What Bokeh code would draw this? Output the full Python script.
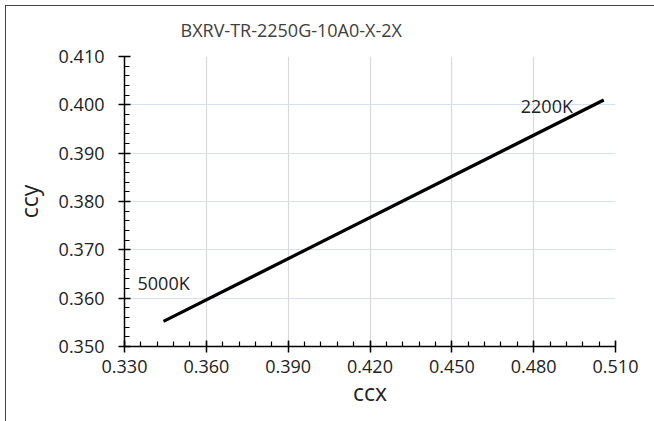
import numpy as np
from bokeh.plotting import figure
from bokeh.models import Range1d, FixedTicker, PrintfTickFormatter, ColumnDataSource
from bokeh.core.properties import value
from bokeh.embed import file_html
from bokeh.resources import INLINE

# ---- data ----
title_text = "BXRV-TR-2250G-10A0-X-2X"
ccx = [0.3443, 0.5057]
ccy = [0.3552, 0.4010]
cct_labels = ["5000K", "2200K"]
x_ticks = [0.330, 0.360, 0.390, 0.420, 0.450, 0.480, 0.510]
y_ticks = [0.350, 0.360, 0.370, 0.380, 0.390, 0.400, 0.410]

FONT = "Open Sans"

p = figure(width=654, height=421, output_backend="svg", toolbar_location=None,
           x_range=Range1d(x_ticks[0], x_ticks[-1]), y_range=Range1d(y_ticks[0], y_ticks[-1]),
           min_border_left=124, min_border_right=39, min_border_top=56, min_border_bottom=75,
           title=title_text)
p.styles = {
    "background-color": "#ffffff",
    "background-image": "linear-gradient(#444444, #444444), linear-gradient(#444444, #444444)",
    "background-size": "1px 100%, 100% 1px",
    "background-position": "5px 5px, 5px 5px",
    "background-repeat": "no-repeat",
}
p.outline_line_color = None
p.background_fill_color = "white"
p.border_fill_color = None

p.title.text_font = FONT
p.title.text_font_size = "18px"
p.title.text_font_style = "normal"
p.title.text_color = "#404040"
p.title.align = "left"
p.title.offset = 56
p.title.standoff = 30

# ticks
x_minor = list(np.round(np.arange(x_ticks[0], x_ticks[-1] + 1e-9, 0.006), 4))
y_minor = list(np.round(np.arange(y_ticks[0], y_ticks[-1] + 1e-9, 0.002), 4))
p.xaxis.ticker = FixedTicker(ticks=x_ticks, minor_ticks=x_minor)
p.yaxis.ticker = FixedTicker(ticks=y_ticks, minor_ticks=y_minor)
p.xaxis.formatter = PrintfTickFormatter(format="%.3f")
p.yaxis.formatter = PrintfTickFormatter(format="%.3f")

for ax in (p.xaxis[0], p.yaxis[0]):
    ax.axis_line_color = "black"
    ax.axis_line_width = 1.5
    ax.major_tick_line_color = "black"
    ax.major_tick_line_width = 1.5
    ax.major_tick_in = 6
    ax.major_tick_out = 6
    ax.minor_tick_line_color = "black"
    ax.minor_tick_line_width = 1.2
    ax.minor_tick_in = 5
    ax.minor_tick_out = 0
    ax.major_label_text_font = FONT
    ax.major_label_text_font_size = "18px"
    ax.major_label_text_color = "#222222"
    ax.axis_label_text_font = FONT
    ax.axis_label_text_font_size = "23px"
    ax.axis_label_text_font_style = "normal"
    ax.axis_label_text_color = "#222222"

p.xaxis.axis_label = "ccx"
p.yaxis.axis_label = "ccy"
p.xaxis.major_label_standoff = 7
p.xaxis.axis_label_standoff = 0
p.yaxis.major_label_standoff = 14
p.yaxis.axis_label_standoff = 11

p.xgrid.grid_line_color = "#d9d9d9"
p.xgrid.grid_line_width = 1.2
p.ygrid.grid_line_color = "#d5e0f2"
p.ygrid.grid_line_width = 1.2

src = ColumnDataSource(dict(x=ccx, y=ccy, lab=cct_labels))
p.line("x", "y", source=src, line_color="black", line_width=3.2)

p.text(x=[ccx[0]], y=[ccy[0]], text=[cct_labels[0]], x_offset=-26, y_offset=-38,
       text_font=value(FONT), text_font_size="18px", text_color="#222222",
       text_baseline="alphabetic", text_align="left")
p.text(x=[ccx[1]], y=[ccy[1]], text=[cct_labels[1]], x_offset=-83, y_offset=6,
       text_font=value(FONT), text_font_size="18px", text_color="#222222",
       text_baseline="alphabetic", text_align="left")

open("out.html", "w").write(file_html(p, INLINE))
